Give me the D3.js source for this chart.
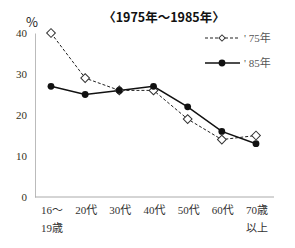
<!DOCTYPE html>
<html><head><meta charset="utf-8">
<script src="https://cdn.jsdelivr.net/npm/d3@7"></script>
<style>body{margin:0;background:#fff}svg{display:block}</style>
</head><body>
<script>
const categories = [["16〜","19歳"],["20代"],["30代"],["40代"],["50代"],["60代"],["70歳","以上"]];
const s75 = [40, 29, 26, 26, 19, 14, 15];
const s85 = [27, 25, 26, 27, 22, 16, 13];
const yTicks = [0, 10, 20, 30, 40];
const seriesNames = ["' 75年", "' 85年"];
const title = "〈1975年〜1985年〉";

const W = 295, H = 248;
const svg = d3.select("body").append("svg").attr("width", W).attr("height", H);
const font = "'Liberation Serif','DejaVu Serif',serif";

const x = d3.scalePoint().domain(d3.range(categories.length)).range([51, 256]);
const y = d3.scaleLinear().domain([0, 40]).range([197, 33]);

// title
svg.append("text").attr("x", 164).attr("y", 22).attr("text-anchor", "middle")
  .attr("font-family", "'Noto Sans CJK JP',sans-serif").attr("font-size", 12.5).attr("font-weight", "bold")
  .attr("fill", "#111").text(title);
svg.append("text").attr("x", 26).attr("y", 27).attr("font-family", "'Noto Sans CJK JP',sans-serif")
  .attr("font-size", 13).attr("fill", "#222").text("%");

// y axis
const ya = svg.append("g").attr("transform", "translate(35,0)")
  .call(d3.axisLeft(y).tickValues(yTicks).tickSize(0).tickPadding(8));
ya.select(".domain").attr("stroke", "#bbb");
ya.selectAll("text").attr("font-family", font).attr("font-size", 11).attr("fill", "#332");

// x axis line
svg.append("line").attr("x1", 35).attr("x2", 274).attr("y1", y(0)).attr("y2", y(0)).attr("stroke", "#aaa");

// x labels
categories.forEach((c, i) => {
  const t = svg.append("text").attr("text-anchor", "middle").attr("font-family", font + ",'Noto Sans CJK JP'")
    .attr("font-size", 11).attr("fill", "#333");
  c.forEach((line, j) => t.append("tspan").attr("x", x(i) + 1).attr("y", 214 + j * 17.5).text(line));
});

const line = d3.line().x((d, i) => x(i)).y(d => y(d));

svg.append("path").datum(s75).attr("d", line).attr("fill", "none").attr("stroke", "#222")
  .attr("stroke-width", 1).attr("stroke-dasharray", "3,2");
svg.append("path").datum(s85).attr("d", line).attr("fill", "none").attr("stroke", "#111")
  .attr("stroke-width", 1.5);

svg.selectAll(".d75").data(s75).join("path").attr("class", "d75")
  .attr("d", d3.symbol().type(d3.symbolSquare).size(38))
  .attr("transform", (d, i) => `translate(${x(i)},${y(d)}) rotate(45)`)
  .attr("fill", "#fff").attr("stroke", "#333").attr("stroke-width", 1);
svg.selectAll(".c85").data(s85).join("circle").attr("class", "c85")
  .attr("cx", (d, i) => x(i)).attr("cy", d => y(d)).attr("r", 3.4).attr("fill", "#111");

// legend
const lg = svg.append("g");
lg.append("line").attr("x1", 205).attr("x2", 240).attr("y1", 38).attr("y2", 38)
  .attr("stroke", "#222").attr("stroke-width", 1.2).attr("stroke-dasharray", "3,2");
lg.append("path").attr("d", d3.symbol().type(d3.symbolSquare).size(20)())
  .attr("transform", "translate(222,38) rotate(45)").attr("fill", "#fff").attr("stroke", "#333");
lg.append("line").attr("x1", 205).attr("x2", 240).attr("y1", 63).attr("y2", 63)
  .attr("stroke", "#111").attr("stroke-width", 1.5);
lg.append("circle").attr("cx", 222).attr("cy", 63).attr("r", 3.4).attr("fill", "#111");
[38, 63].forEach((yy, i) => lg.append("text").attr("x", 244).attr("y", yy + 4)
  .attr("font-family", font + ",'Noto Sans CJK JP'").attr("font-size", 11).attr("fill", "#555").text(seriesNames[i]));
</script>
</body></html>
